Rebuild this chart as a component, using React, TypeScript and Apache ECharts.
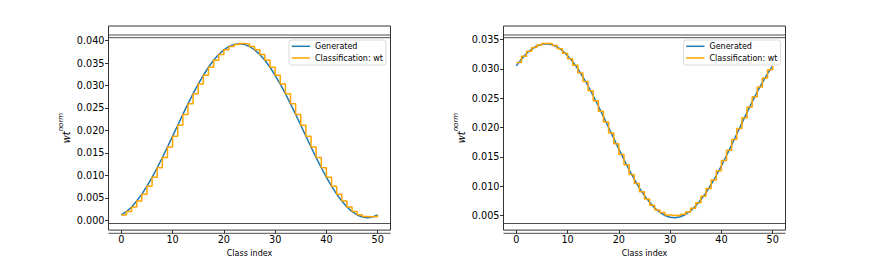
import React, { useEffect, useRef } from "react";
import * as echarts from "echarts";

const classIndex = [
  0, 1, 2, 3, 4, 5, 6, 7, 8, 9, 10, 11, 12, 13, 14, 15, 16, 17, 18, 19, 20,
  21, 22, 23, 24, 25, 26, 27, 28, 29, 30, 31, 32, 33, 34, 35, 36, 37, 38, 39,
  40, 41, 42, 43, 44, 45, 46, 47, 48, 49, 50,
];

const leftGenerated = [
  0.00121, 0.00196, 0.00299, 0.0043, 0.00584, 0.00762, 0.00958, 0.01171,
  0.01397, 0.01632, 0.01874, 0.02117, 0.02358, 0.02593, 0.02819, 0.03032,
  0.03228, 0.03406, 0.03561, 0.03691, 0.03794, 0.03869, 0.03915, 0.0393,
  0.03915, 0.03869, 0.03794, 0.03691, 0.03561, 0.03406, 0.03228, 0.03032,
  0.02819, 0.02593, 0.02358, 0.02117, 0.01874, 0.01632, 0.01397, 0.01171,
  0.00958, 0.00762, 0.00584, 0.0043, 0.00299, 0.00196, 0.00121, 0.00075,
  0.0006, 0.00075, 0.00121,
];
const leftClassified = [
  0.00121, 0.00196, 0.00299, 0.0043, 0.00584, 0.00762, 0.00958, 0.01171,
  0.01397, 0.01632, 0.01874, 0.02117, 0.02358, 0.02593, 0.02819, 0.03032,
  0.03228, 0.03406, 0.03561, 0.03691, 0.03794, 0.03869, 0.03915, 0.03932,
  0.03925, 0.03869, 0.03794, 0.03691, 0.03561, 0.03406, 0.03228, 0.03032,
  0.02819, 0.02593, 0.02358, 0.02117, 0.01874, 0.01632, 0.01397, 0.01171,
  0.00958, 0.00762, 0.00584, 0.0043, 0.00299, 0.00196, 0.00125, 0.00085,
  0.0008, 0.00085, 0.0012,
];

const rightGenerated = [
  0.03052, 0.03167, 0.03263, 0.03338, 0.03391, 0.03422, 0.03429, 0.03412,
  0.03373, 0.03311, 0.03227, 0.03123, 0.03001, 0.02862, 0.02709, 0.02543,
  0.02368, 0.02187, 0.02001, 0.01815, 0.01631, 0.01452, 0.0128, 0.01119,
  0.00971, 0.00839, 0.00724, 0.00628, 0.00553, 0.005, 0.0047, 0.00462,
  0.00479, 0.00518, 0.0058, 0.00664, 0.00768, 0.0089, 0.01029, 0.01182,
  0.01348, 0.01523, 0.01704, 0.0189, 0.02076, 0.0226, 0.02439, 0.02611,
  0.02772, 0.0292, 0.03052,
];
const rightClassified = [
  0.0311, 0.03215, 0.033, 0.03365, 0.03407, 0.03432, 0.03432, 0.03398,
  0.03342, 0.03269, 0.03175, 0.03062, 0.02932, 0.02786, 0.02626, 0.02456,
  0.02278, 0.02094, 0.01908, 0.01723, 0.01542, 0.01366, 0.012, 0.01045,
  0.00905, 0.00782, 0.00676, 0.00595, 0.0055, 0.0051, 0.005, 0.005, 0.0052,
  0.0056, 0.00625, 0.00716, 0.00829, 0.0096, 0.01106, 0.01265, 0.01436,
  0.01614, 0.01797, 0.01983, 0.02168, 0.0235, 0.02525, 0.02692, 0.02846,
  0.02986, 0.03052,
];

const xTicks = [0, 10, 20, 30, 40, 50];
const leftYTicks = [0, 0.005, 0.01, 0.015, 0.02, 0.025, 0.03, 0.035, 0.04];
const rightYTicks = [0.005, 0.01, 0.015, 0.02, 0.025, 0.03, 0.035];

const leftYRange = [-0.00216, 0.04324];
const rightYRange = [0.00251, 0.03732];
const xRange = [-2.5, 52.5];

const seriesNames = ["Generated", "Classification: wt"];
const xLabel = "Class index";

const FONT = "DejaVu Sans";
const BLUE = "#1f77b4";
const ORANGE = "#ffa500";

const GRIDS = [
  { left: 108.5, top: 26, width: 282, height: 210 },
  { left: 503.5, top: 26, width: 282, height: 210 },
];

function pairs(ys: number[]) {
  return ys.map((v, i) => [classIndex[i], v]);
}

export default function App() {
  const ref = useRef<HTMLDivElement>(null);
  useEffect(() => {
    if (!ref.current) return;
    const chart = echarts.init(ref.current, undefined, { renderer: "svg" });

    const xAxisFor = (gi: number) => ({
      type: "value",
      gridIndex: gi,
      min: xRange[0],
      max: xRange[1],
      axisLine: { show: false, onZero: false },
      splitLine: { show: false },
      axisTick: {
        show: true,
        customValues: xTicks,
        length: 3.5,
        lineStyle: { color: "#000", width: 0.8 },
      },
      axisLabel: {
        customValues: xTicks,
        fontSize: 9.7,
        fontFamily: FONT,
        color: "#000",
        margin: 4,
      },
      name: xLabel,
      nameLocation: "middle",
      nameGap: 12,
      nameTextStyle: { fontSize: 8, fontFamily: FONT, color: "#000" },
    });

    const yAxisFor = (gi: number, range: number[], ticks: number[]) => ({
      type: "value",
      gridIndex: gi,
      min: range[0],
      max: range[1],
      axisLine: { show: false, onZero: false },
      splitLine: { show: false },
      axisTick: {
        show: true,
        customValues: ticks,
        length: 3.5,
        lineStyle: { color: "#000", width: 0.8 },
      },
      axisLabel: {
        customValues: ticks,
        fontSize: 9.7,
        fontFamily: FONT,
        color: "#000",
        margin: 4,
        formatter: (v: number) => v.toFixed(3),
      },
      name: "{a|wt}{b|norm}",
      nameLocation: "middle",
      nameGap: 37,
      nameRotate: 90,
      nameTextStyle: {
        fontFamily: FONT,
        color: "#000",
        rich: {
          a: {
            fontSize: 9.8,
            fontStyle: "italic",
            fontFamily: FONT,
            color: "#000",
            lineHeight: 14,
            verticalAlign: "bottom",
          },
          b: {
            fontSize: 7,
            fontStyle: "italic",
            fontFamily: FONT,
            color: "#000",
            lineHeight: 14,
            verticalAlign: "top",
          },
        },
      },
    });

    const lineSeries = (gi: number, name: string, ys: number[], color: string, step?: string) => ({
      type: "line",
      name,
      xAxisIndex: gi,
      yAxisIndex: gi,
      data: pairs(ys),
      symbol: "none",
      showSymbol: false,
      step: step || false,
      lineStyle: { color, width: 1.5 },
      itemStyle: { color },
      silent: true,
      z: step ? 3 : 2,
    });

    const legendFor = (left: number) => ({
      orient: "vertical",
      left,
      top: 40,
      data: seriesNames,
      selectedMode: false,
      icon: "rect",
      itemWidth: 18.3,
      itemHeight: 1.5,
      itemGap: 3.7,
      padding: [2.3, 3, 3, 2.7],
      backgroundColor: "rgba(255,255,255,0.8)",
      borderColor: "#d0d0d0",
      borderWidth: 0.8,
      borderRadius: 2.5,
      textStyle: { fontSize: 8, fontFamily: FONT, color: "#000", lineHeight: 8 },
    });

    const decoYs = [35, 37.7, 223.5, 233.3];
    const graphics: any[] = [];
    GRIDS.forEach((g) => {
      decoYs.forEach((y) => {
        graphics.push({
          type: "line",
          silent: true,
          z: 10,
          shape: { x1: g.left, y1: y, x2: g.left + g.width, y2: y },
          style: { stroke: "#222", lineWidth: 0.8 },
        });
      });
    });

    chart.setOption({
      animation: false,
      backgroundColor: "#fff",
      grid: GRIDS.map((g) => ({
        ...g,
        show: true,
        borderColor: "#000",
        borderWidth: 0.8,
        backgroundColor: "transparent",
        containLabel: false,
      })),
      xAxis: [xAxisFor(0), xAxisFor(1)],
      yAxis: [yAxisFor(0, leftYRange, leftYTicks), yAxisFor(1, rightYRange, rightYTicks)],
      legend: [legendFor(289), legendFor(683.5)],
      series: [
        lineSeries(0, seriesNames[0], leftGenerated, BLUE),
        lineSeries(0, seriesNames[1], leftClassified, ORANGE, "end"),
        lineSeries(1, seriesNames[0], rightGenerated, BLUE),
        lineSeries(1, seriesNames[1], rightClassified, ORANGE, "end"),
      ],
      graphic: graphics,
    });
    return () => chart.dispose();
  }, []);
  return (
    <div
      ref={ref}
      style={{ position: "fixed", left: 0, top: 0, width: 872, height: 262, background: "#fff" }}
    />
  );
}
